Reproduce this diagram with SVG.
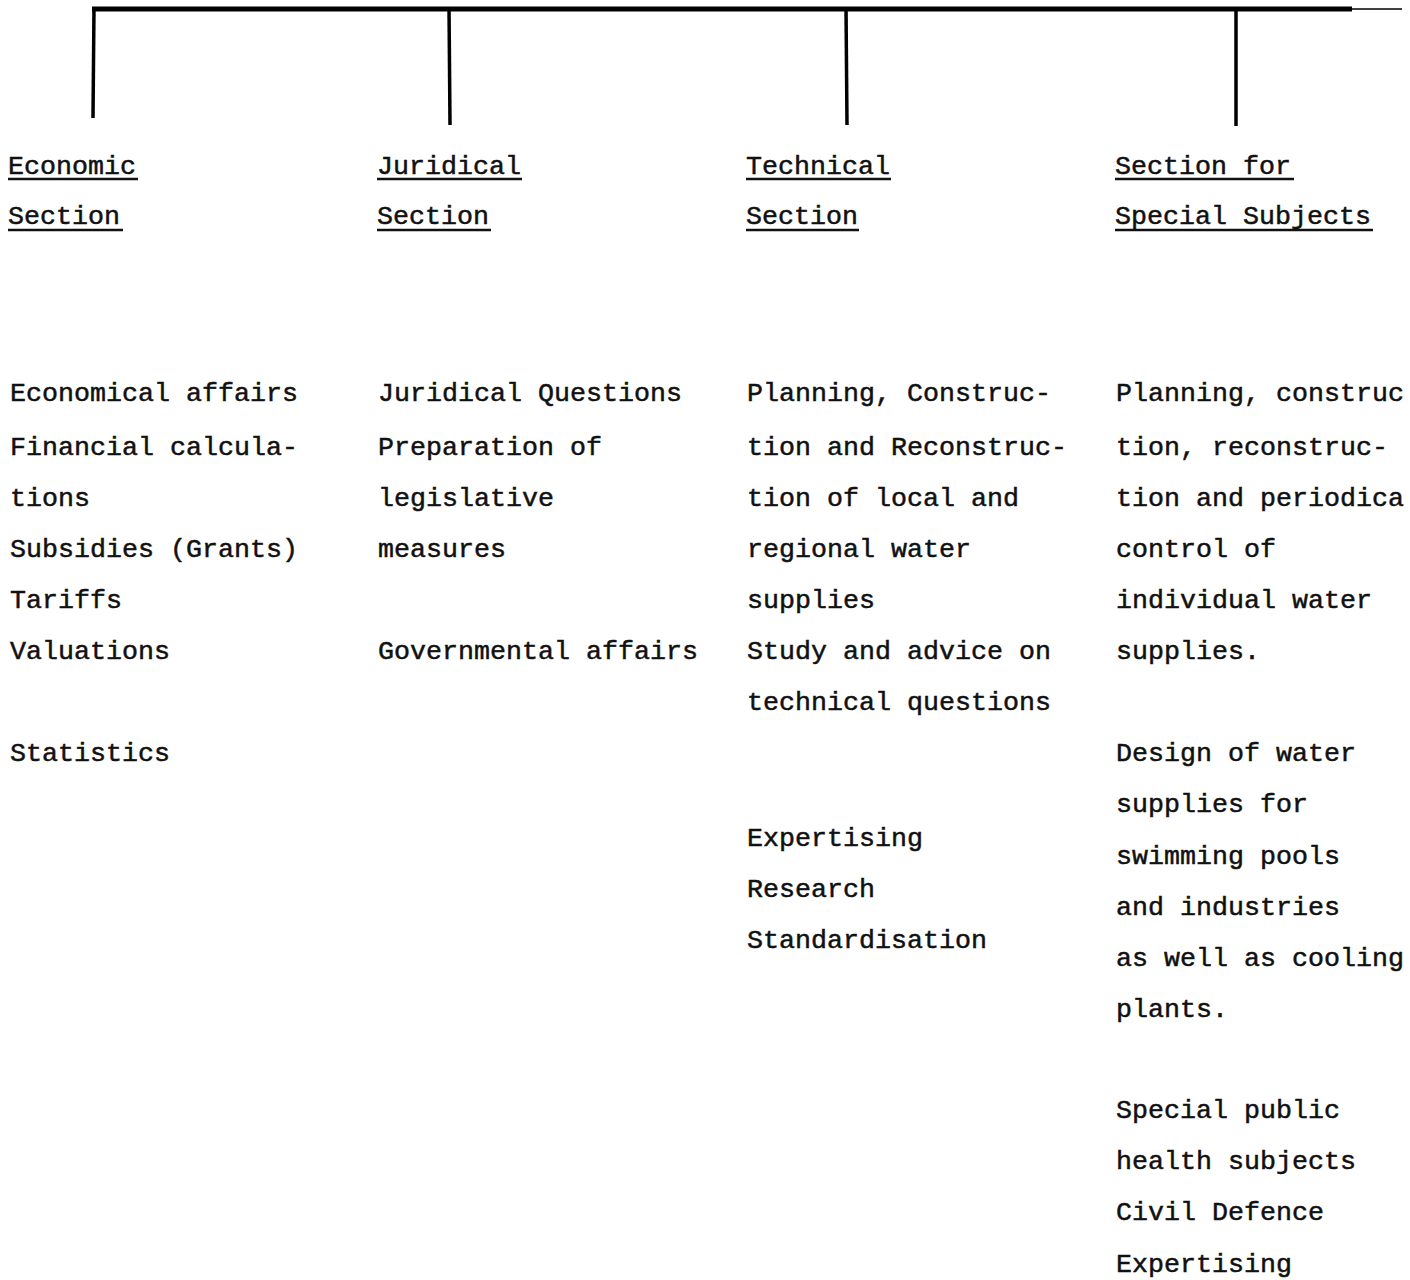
<svg xmlns="http://www.w3.org/2000/svg" width="1410" height="1280" viewBox="0 0 1410 1280">
<style>
  .t { font-family: "Liberation Mono", "Courier New", monospace; font-size: 26.67px; fill: #111; stroke: #111; stroke-width: 0.5; }
  .u { stroke: #111; stroke-width: 2.5; }
  .c { stroke: #000; fill: none; stroke-linecap: butt; }
</style>
<rect width="1410" height="1280" fill="#fff"/>
<g id="connectors">
  <line class="c" x1="92" y1="9" x2="1352" y2="9" stroke-width="5"/>
  <line class="c" x1="1352" y1="9" x2="1402" y2="9" stroke-width="1.5"/>
  <line class="c" x1="94" y1="7" x2="93" y2="118" stroke-width="3.5"/>
  <line class="c" x1="449" y1="7" x2="450" y2="125" stroke-width="3.5"/>
  <line class="c" x1="846" y1="7" x2="847" y2="125" stroke-width="3.5"/>
  <line class="c" x1="1236" y1="7" x2="1236" y2="126" stroke-width="3.5"/>
</g>
<g id="economic">
  <text class="t" x="8" y="174">Economic</text>
  <line class="u" x1="8" y1="179" x2="138" y2="179"/>
  <text class="t" x="8" y="224">Section</text>
  <line class="u" x1="8" y1="230" x2="123" y2="230"/>
  <text class="t" x="10" y="401">Economical affairs</text>
  <text class="t" x="10" y="455">Financial calcula-</text>
  <text class="t" x="10" y="506">tions</text>
  <text class="t" x="10" y="557">Subsidies (Grants)</text>
  <text class="t" x="10" y="608">Tariffs</text>
  <text class="t" x="10" y="659">Valuations</text>
  <text class="t" x="10" y="761">Statistics</text>
</g>
<g id="juridical">
  <text class="t" x="377" y="174">Juridical</text>
  <line class="u" x1="377" y1="179" x2="522" y2="179"/>
  <text class="t" x="377" y="224">Section</text>
  <line class="u" x1="377" y1="230" x2="491" y2="230"/>
  <text class="t" x="378" y="401">Juridical Questions</text>
  <text class="t" x="378" y="455">Preparation of</text>
  <text class="t" x="378" y="506">legislative</text>
  <text class="t" x="378" y="557">measures</text>
  <text class="t" x="378" y="659">Governmental affairs</text>
</g>
<g id="technical">
  <text class="t" x="746" y="174">Technical</text>
  <line class="u" x1="746" y1="179" x2="891" y2="179"/>
  <text class="t" x="746" y="224">Section</text>
  <line class="u" x1="746" y1="230" x2="859" y2="230"/>
  <text class="t" x="747" y="401">Planning, Construc-</text>
  <text class="t" x="747" y="455">tion and Reconstruc-</text>
  <text class="t" x="747" y="506">tion of local and</text>
  <text class="t" x="747" y="557">regional water</text>
  <text class="t" x="747" y="608">supplies</text>
  <text class="t" x="747" y="659">Study and advice on</text>
  <text class="t" x="747" y="710">technical questions</text>
  <text class="t" x="747" y="846">Expertising</text>
  <text class="t" x="747" y="897">Research</text>
  <text class="t" x="747" y="948">Standardisation</text>
</g>
<g id="special">
  <text class="t" x="1115" y="174">Section for</text>
  <line class="u" x1="1115" y1="179" x2="1294" y2="179"/>
  <text class="t" x="1115" y="224">Special Subjects</text>
  <line class="u" x1="1115" y1="230" x2="1373" y2="230"/>
  <text class="t" x="1116" y="401">Planning, construc</text>
  <text class="t" x="1116" y="455">tion, reconstruc-</text>
  <text class="t" x="1116" y="506">tion and periodica</text>
  <text class="t" x="1116" y="557">control of</text>
  <text class="t" x="1116" y="608">individual water</text>
  <text class="t" x="1116" y="659">supplies.</text>
  <text class="t" x="1116" y="761">Design of water</text>
  <text class="t" x="1116" y="812">supplies for</text>
  <text class="t" x="1116" y="864">swimming pools</text>
  <text class="t" x="1116" y="915">and industries</text>
  <text class="t" x="1116" y="966">as well as cooling</text>
  <text class="t" x="1116" y="1017">plants.</text>
  <text class="t" x="1116" y="1118">Special public</text>
  <text class="t" x="1116" y="1169">health subjects</text>
  <text class="t" x="1116" y="1220">Civil Defence</text>
  <text class="t" x="1116" y="1272">Expertising</text>
</g>
</svg>
